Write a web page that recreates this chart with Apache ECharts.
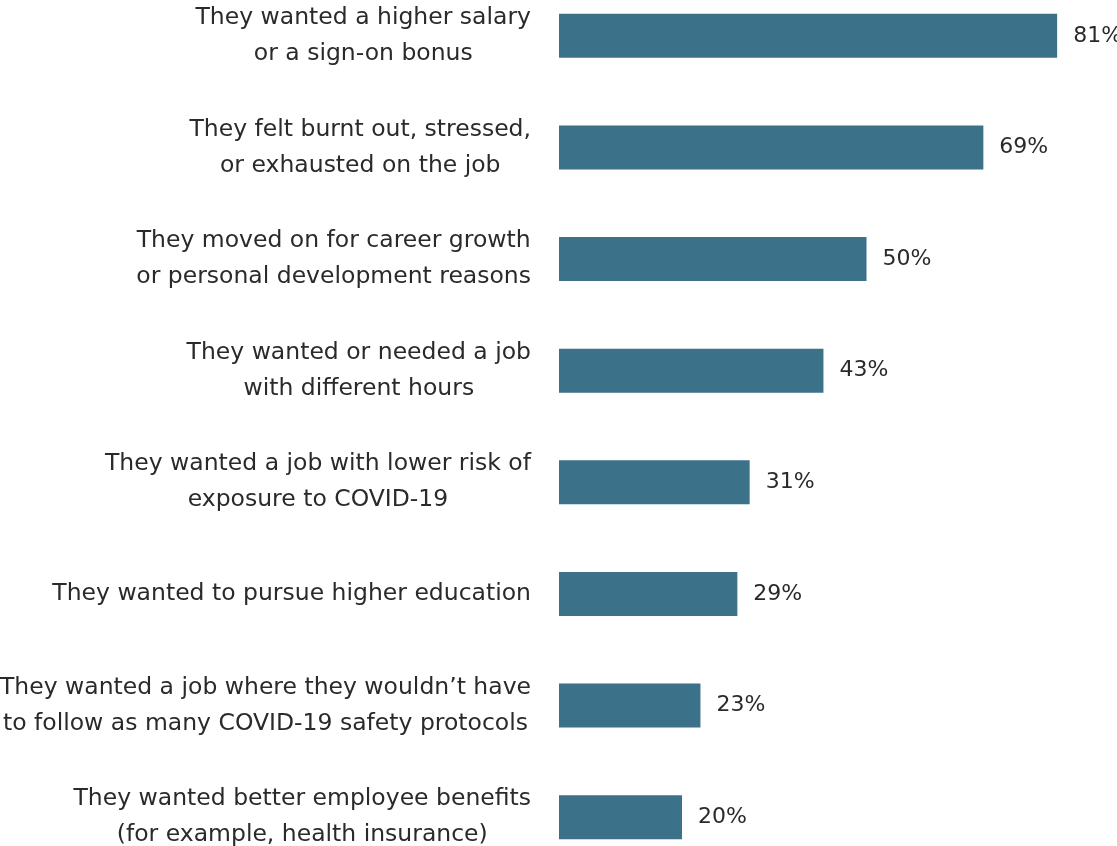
<!DOCTYPE html>
<html>
<head>
<meta charset="utf-8">
<script src="https://cdn.jsdelivr.net/npm/echarts@6/dist/echarts.min.js"></script>
<style>
  html, body { margin: 0; padding: 0; background: #fff; }
  #chart { width: 1117px; height: 846px; }
</style>
</head>
<body>
<div id="chart"></div>
<script>
const categories = [
  'They wanted a higher salary\nor a sign-on bonus',
  'They felt burnt out, stressed,\nor exhausted on the job',
  'They moved on for career growth\nor personal development reasons',
  'They wanted or needed a job\nwith different hours',
  'They wanted a job with lower risk of\nexposure to COVID-19',
  'They wanted to pursue higher education',
  'They wanted a job where they wouldn\u2019t have\nto follow as many COVID-19 safety protocols',
  'They wanted better employee benefits\n(for example, health insurance)'
];
const values = [81, 69, 50, 43, 31, 29, 23, 20];

const fontFamily = '"DejaVu Sans", sans-serif';
const textColor = '#2a2a2a';

const chart = echarts.init(document.getElementById('chart'));

chart.setOption({
  animation: false,
  grid: {
    left: 559,
    right: 4.5,
    top: -20,
    bottom: -27,
    outerBoundsMode: 'none'
  },
  xAxis: {
    type: 'value',
    min: 0,
    max: 90,
    show: false
  },
  yAxis: {
    type: 'category',
    inverse: true,
    data: categories,
    axisLine: { show: false },
    axisTick: { show: false },
    splitLine: { show: false },
    axisLabel: {
      margin: 28,
      align: 'right',
      formatter: function (v) {
        return v.split('\n').map(s => '{c|' + s + '}').join('\n');
      },
      rich: {
        c: {
          align: 'center',
          fontFamily: fontFamily,
          fontSize: 23.5,
          lineHeight: 36,
          color: textColor
        }
      }
    }
  },
  series: [{
    type: 'bar',
    data: values,
    barWidth: 44,
    itemStyle: { color: '#3b7189' },
    label: {
      show: true,
      position: 'right',
      distance: 16,
      formatter: '{c}%',
      fontFamily: fontFamily,
      fontSize: 22,
      color: textColor
    }
  }]
});
</script>
</body>
</html>
